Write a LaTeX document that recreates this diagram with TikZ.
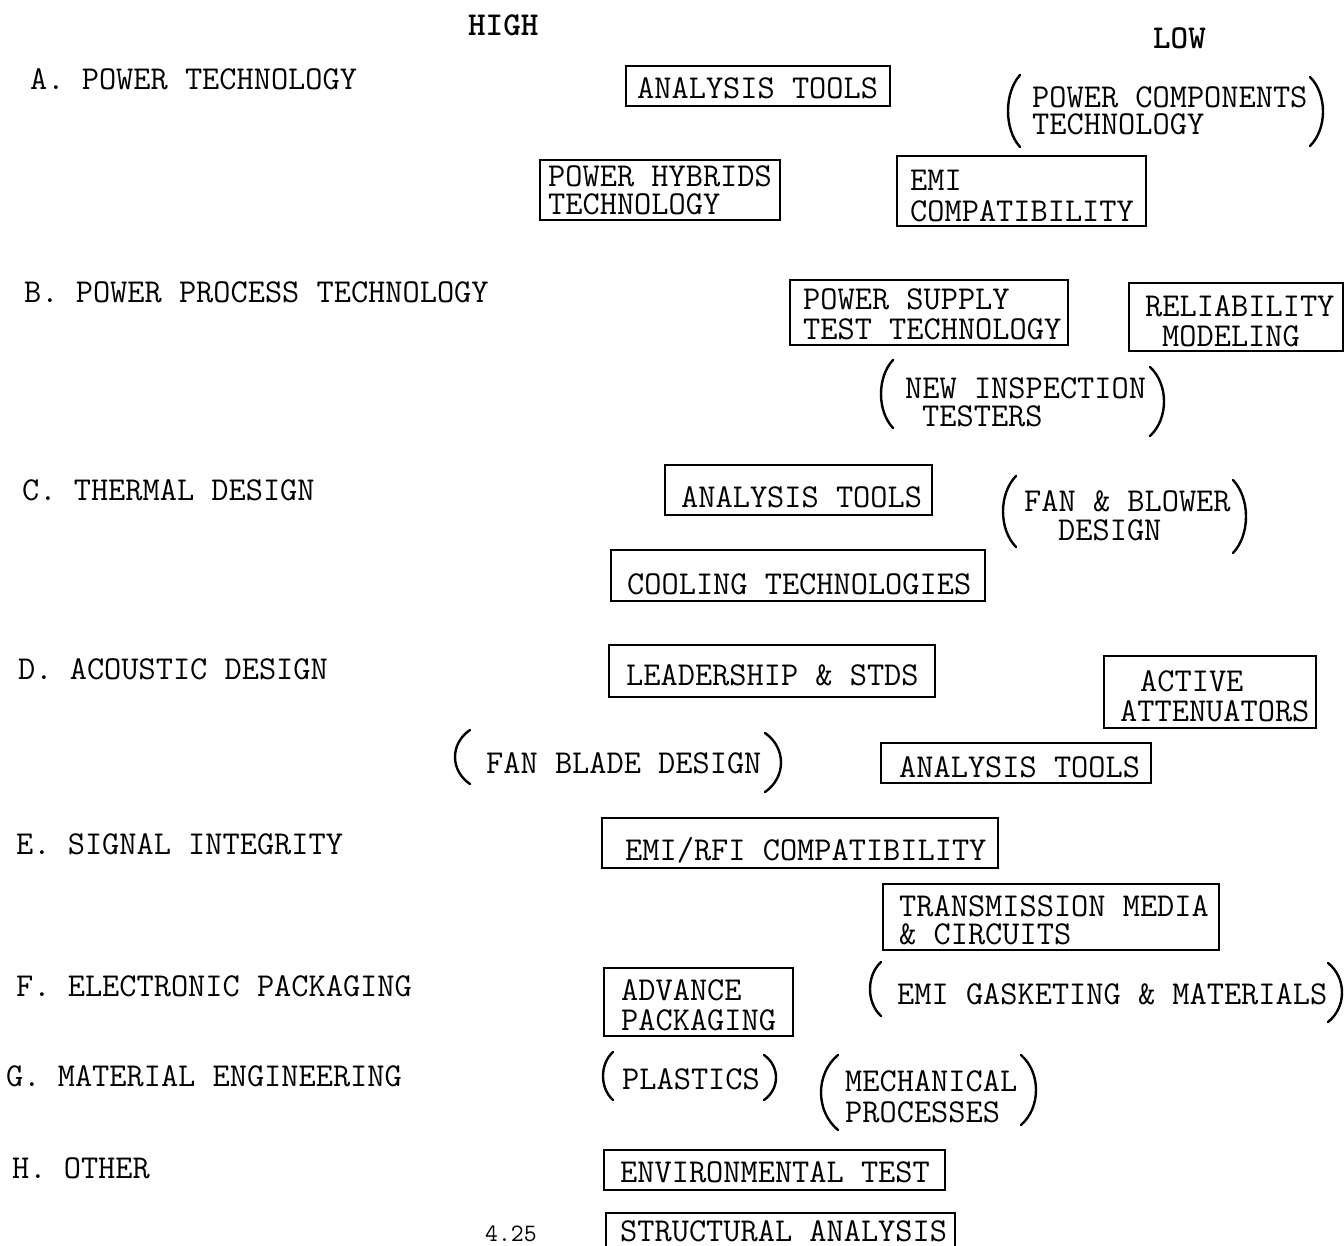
\documentclass[tikz,border=0pt]{standalone}
\usepackage{fontspec}
\usetikzlibrary{fit}
\newcommand\twfont{\ttfamily\fontsize{33.4}{36}\selectfont}
\newcommand\pgfont{\ttfamily\fontsize{25}{28}\selectfont}
\newcommand\paren[4]{% x at ends, top y, bottom y, bulge x
  \draw[parst] (#1,#2) .. controls ({#1-(#1-#4)*4/3},{#2+(#3-#2)*0.25}) and ({#1-(#1-#4)*4/3},{#3-(#3-#2)*0.25}) .. (#1,#3);}
\begin{document}
\begin{tikzpicture}[x=1pt,y=-1pt,
  lbl/.style={font=\twfont, anchor=base west, inner sep=0pt},
  hdr/.style={font=\twfont\bfseries, anchor=base west, inner sep=0pt},
  frm/.style={draw, line width=1.8pt, inner sep=0pt},
  parst/.style={line width=2.4pt, line cap=round}]
\useasboundingbox (0,0) rectangle (1344,1245);

% column headings
\node[hdr] (high) at (468,35) {HIGH};
\node[hdr] (low) at (1153,48) {LOW};

% categories
\node[lbl] (cA) at (30,89) {A. POWER TECHNOLOGY};
\node[lbl] (cB) at (24,302) {B. POWER PROCESS TECHNOLOGY};
\node[lbl] (cC) at (22,500) {C. THERMAL DESIGN};
\node[lbl] (cD) at (18,679) {D. ACOUSTIC DESIGN};
\node[lbl] (cE) at (16,854) {E. SIGNAL INTEGRITY};
\node[lbl] (cF) at (16,996) {F. ELECTRONIC PACKAGING};
\node[lbl] (cG) at (6,1086) {G. MATERIAL ENGINEERING};
\node[lbl] (cH) at (12,1178) {H. OTHER};
\node[font=\pgfont, anchor=base west, inner sep=0pt] (pg) at (485,1241) {4.25};

% A
\node[frm, fit={(626,66) (890,106)}] (bA1) {};
\node[lbl] (tA1) at (637,98) {ANALYSIS TOOLS};
\node[lbl] (tA2a) at (1032,107) {POWER COMPONENTS};
\node[lbl] (tA2b) at (1032,134) {TECHNOLOGY};
\paren{1020}{75}{147}{1008}
\paren{1310}{77}{146}{1323}
\node[frm, fit={(540,160) (780,220)}] (bA3) {};
\node[lbl] (tA3a) at (548,186) {POWER HYBRIDS};
\node[lbl] (tA3b) at (548,214) {TECHNOLOGY};
\node[frm, fit={(897,156) (1146,226)}] (bA4) {};
\node[lbl] (tA4a) at (910,190) {EMI};
\node[lbl] (tA4b) at (910,221) {COMPATIBILITY};

% B
\node[frm, fit={(790,280) (1068,345)}] (bB1) {};
\node[lbl] (tB1a) at (803,309) {POWER SUPPLY};
\node[lbl] (tB1b) at (803,339) {TEST TECHNOLOGY};
\node[frm, fit={(1129,283) (1343,351)}] (bB2) {};
\node[lbl] (tB2a) at (1145,316) {RELIABILITY};
\node[lbl] (tB2b) at (1162,346) {MODELING};
\node[lbl] (tB3a) at (905,398) {NEW INSPECTION};
\node[lbl] (tB3b) at (922,426) {TESTERS};
\paren{893}{360}{428}{881}
\paren{1150}{367}{436}{1164}

% C
\node[frm, fit={(665,465) (932,515)}] (bC1) {};
\node[lbl] (tC1) at (681,507) {ANALYSIS TOOLS};
\node[lbl] (tC2a) at (1024,511) {FAN \& BLOWER};
\node[lbl] (tC2b) at (1058,540) {DESIGN};
\paren{1016}{476}{547}{1003}
\paren{1233}{480}{553}{1246}
\node[frm, fit={(611,550) (985,601)}] (bC3) {};
\node[lbl] (tC3) at (627,594) {COOLING TECHNOLOGIES};

% D
\node[frm, fit={(609,645) (935,697)}] (bD1) {};
\node[lbl] (tD1) at (626,685) {LEADERSHIP \& STDS};
\node[frm, fit={(1104,656) (1316,728)}] (bD2) {};
\node[lbl] (tD2a) at (1140,691) {ACTIVE};
\node[lbl] (tD2b) at (1120,721) {ATTENUATORS};
\node[lbl] (tD3) at (486,773) {FAN BLADE DESIGN};
\paren{470}{730}{784}{455}
\paren{765}{733}{792}{781}
\node[frm, fit={(881,743) (1151,783)}] (bD4) {};
\node[lbl] (tD4) at (899,777) {ANALYSIS TOOLS};

% E
\node[frm, fit={(602,818) (998,868)}] (bE1) {};
\node[lbl] (tE1) at (625,860) {EMI/RFI COMPATIBILITY};
\node[frm, fit={(883,884) (1219,950)}] (bE2) {};
\node[lbl] (tE2a) at (899,916) {TRANSMISSION MEDIA};
\node[lbl] (tE2b) at (899,944) {\& CIRCUITS};

% F
\node[frm, fit={(604,968) (793,1036)}] (bF1) {};
\node[lbl] (tF1a) at (621,1000) {ADVANCE};
\node[lbl] (tF1b) at (621,1030) {PACKAGING};
\node[lbl] (tF2) at (897,1004) {EMI GASKETING \& MATERIALS};
\paren{881}{962}{1016}{870}
\paren{1328}{963}{1022}{1342}

% G
\node[lbl] (tG1) at (622,1089) {PLASTICS};
\paren{613}{1052}{1100}{603}
\paren{764}{1055}{1100}{776}
\node[lbl] (tG2a) at (845,1091) {MECHANICAL};
\node[lbl] (tG2b) at (845,1122) {PROCESSES};
\paren{838}{1055}{1130}{821}
\paren{1021}{1055}{1125}{1036}

% H
\node[frm, fit={(604,1150) (945,1190)}] (bH1) {};
\node[lbl] (tH1) at (620,1182) {ENVIRONMENTAL TEST};
\node[frm, fit={(606,1213) (955,1252)}] (bH2) {};
\node[lbl] (tH2) at (620,1241) {STRUCTURAL ANALYSIS};
\end{tikzpicture}
\end{document}
